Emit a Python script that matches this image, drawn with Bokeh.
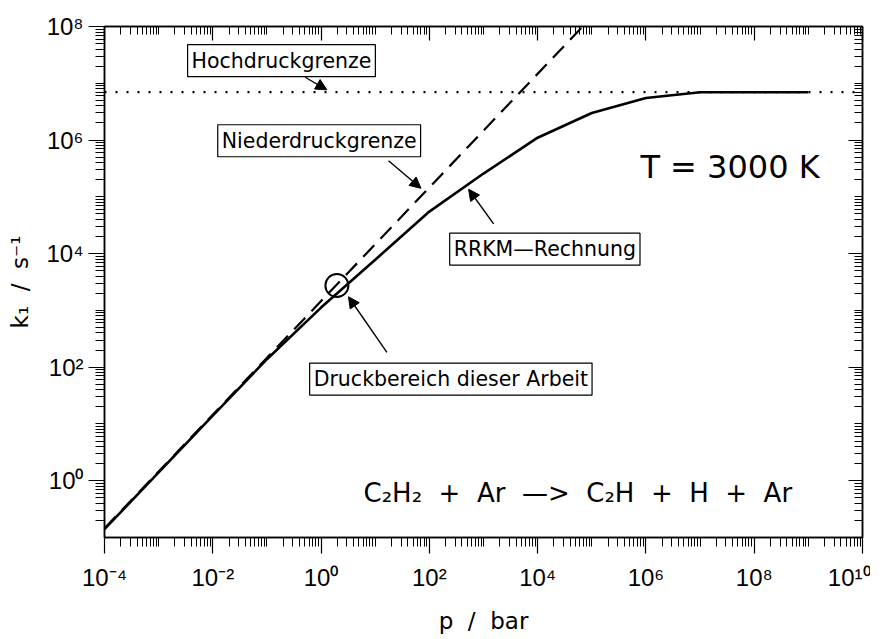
from bokeh.plotting import figure
from bokeh.models import (Range1d, FixedTicker, CustomJSTickFormatter, LogAxis,
                          Label, Arrow, NormalHead)
from bokeh.embed import file_html
from bokeh.resources import INLINE

# ---- data ----
rrkm_p = [1e-4, 1e-3, 1e-2, 1e-1, 1e0, 1e1, 1e2, 1e3, 1e4, 1e5, 1e6, 1e7, 1e8, 1e9]
rrkm_k = [0.14, 1.4, 14.0, 138, 1120, 7800, 5.5e4, 2.57e5, 1.10e6, 2.99e6,
          5.5e6, 6.97e6, 6.97e6, 6.97e6]
low_p = [1e-4, 6.8e4]          # Niederdruckgrenze
low_k = [0.145, 1.0e8]
high_p = [1e-4, 1e10]          # Hochdruckgrenze
high_k = [6.97e6, 6.97e6]
work_p = [1.96]                # Druckbereich dieser Arbeit
work_k = [2740]

x_major = [1e-4, 1e-2, 1e0, 1e2, 1e4, 1e6, 1e8, 1e10]
y_major = [1e0, 1e2, 1e4, 1e6, 1e8]
x_minor = [m * 10.0 ** d for d in range(-4, 10) for m in range(2, 11) if m * 10.0 ** d not in x_major]
y_minor = [m * 10.0 ** d for d in range(-1, 8) for m in range(2, 11) if m * 10.0 ** d not in y_major]

FONT = "DejaVu Sans"
TFONT = "Liberation Sans"
SP = "\u00a0\u00a0"

p = figure(width=870, height=636, x_axis_type="log", y_axis_type="log",
           x_range=Range1d(1e-4, 1e10), y_range=Range1d(1e-1, 1e8),
           output_backend="svg", toolbar_location=None,
           min_border_left=104, min_border_right=8, min_border_top=26, min_border_bottom=97)
p.xgrid.visible = False
p.ygrid.visible = False
p.outline_line_color = "black"
p.outline_line_width = 1.5

sup_code = """
const sup = {"-":"\u207b","0":"\u2070","1":"\u00b9","2":"\u00b2","3":"\u00b3","4":"\u2074",
             "5":"\u2075","6":"\u2076","7":"\u2077","8":"\u2078","9":"\u2079"};
const e = Math.round(Math.log10(tick));
return "10" + String(e).split("").map(c => sup[c]).join("");
"""
fmt = CustomJSTickFormatter(code=sup_code)
empty = CustomJSTickFormatter(code="return '';")
xt = FixedTicker(ticks=x_major, minor_ticks=x_minor)
yt = FixedTicker(ticks=y_major, minor_ticks=y_minor)

def style(ax, outside):
    ax.axis_line_color = "black"
    ax.axis_line_width = 1.5
    ax.major_tick_line_color = "black"
    ax.minor_tick_line_color = "black"
    ax.major_tick_line_width = 1.2
    ax.minor_tick_line_width = 1
    ax.major_label_text_color = "black"
    ax.axis_label_text_color = "black"
    if outside:
        ax.major_tick_out = 16
        ax.major_tick_in = 0
        ax.minor_tick_out = 9
        ax.minor_tick_in = 0
    else:
        ax.major_tick_out = 0
        ax.major_tick_in = 14
        ax.minor_tick_out = 0
        ax.minor_tick_in = 8
        ax.major_label_standoff = 0

xa = p.xaxis[0]
xa.ticker = xt
xa.formatter = fmt
style(xa, True)
xa.major_label_text_font = TFONT
xa.major_label_text_font_size = "24px"
xa.major_label_standoff = 10
xa.axis_label = SP.join(["p", "/", "bar"])
xa.axis_label_text_font = FONT
xa.axis_label_text_font_size = "23px"
xa.axis_label_text_font_style = "normal"
xa.axis_label_standoff = 14

ya = p.yaxis[0]
ya.ticker = yt
ya.formatter = fmt
style(ya, True)
ya.major_label_text_font = TFONT
ya.major_label_text_font_size = "24px"
ya.major_label_standoff = 5
ya.axis_label = SP.join(["k\u2081", "/", "s\u207b\u00b9"])
ya.axis_label_text_font = FONT
ya.axis_label_text_font_size = "23px"
ya.axis_label_text_font_style = "normal"
ya.axis_label_standoff = 10

top = LogAxis(ticker=xt, formatter=empty, major_label_text_font_size="1px")
style(top, False)
p.add_layout(top, "above")
right = LogAxis(ticker=yt, formatter=empty, major_label_text_font_size="1px")
style(right, False)
p.add_layout(right, "right")

# ---- curves ----
p.line(high_p, high_k, line_color="black", line_width=2.2, line_dash="2 9")
p.line(low_p, low_k, line_color="black", line_width=2.2, line_dash="16 9")
p.line(rrkm_p, rrkm_k, line_color="black", line_width=2.6)
p.scatter(work_p, work_k, marker="circle", size=23, fill_color=None,
          line_color="black", line_width=2)

# ---- annotations ----
def box_label(lx, ly, txt):
    p.add_layout(Label(x=10 ** lx, y=10 ** ly, text=txt, text_font=FONT, text_color="black",
                       text_font_size="20.5px", text_align="center", text_baseline="middle",
                       background_fill_color="white", border_line_color="black",
                       border_line_width=1.2, padding=4))

def arrow(x0, y0, x1, y1):
    p.add_layout(Arrow(x_start=10 ** x0, y_start=10 ** y0, x_end=10 ** x1, y_end=10 ** y1,
                       line_width=1.4, line_color="black",
                       end=NormalHead(size=11, fill_color="black", line_color="black", line_width=1)))

box_label(-0.731, 7.398, "Hochdruckgrenze")
arrow(-0.294, 7.106, 0.107, 6.885)
box_label(-0.035, 5.988, "Niederdruckgrenze")
arrow(1.246, 5.634, 1.845, 5.150)
box_label(4.133, 4.078, "RRKM\u2014Rechnung")
arrow(3.187, 4.525, 2.725, 5.133)
box_label(2.397, 1.791, "Druckbereich dieser Arbeit")
arrow(1.216, 2.259, 0.506, 3.240)

p.add_layout(Label(x=10 ** 5.898, y=10 ** 5.529, text="T = 3000 K", text_font=FONT,
                   text_color="black", text_font_size="32px", text_baseline="alphabetic"))
reaction = SP.join(["C\u2082H\u2082", "+", "Ar", "\u2014>", "C\u2082H", "+", "H", "+", "Ar"])
p.add_layout(Label(x=10 ** 0.784, y=10 ** -0.224, text=reaction, text_font=FONT,
                   text_color="black", text_font_size="26px", text_baseline="alphabetic"))

open("out.html", "w").write(file_html(p, INLINE))
